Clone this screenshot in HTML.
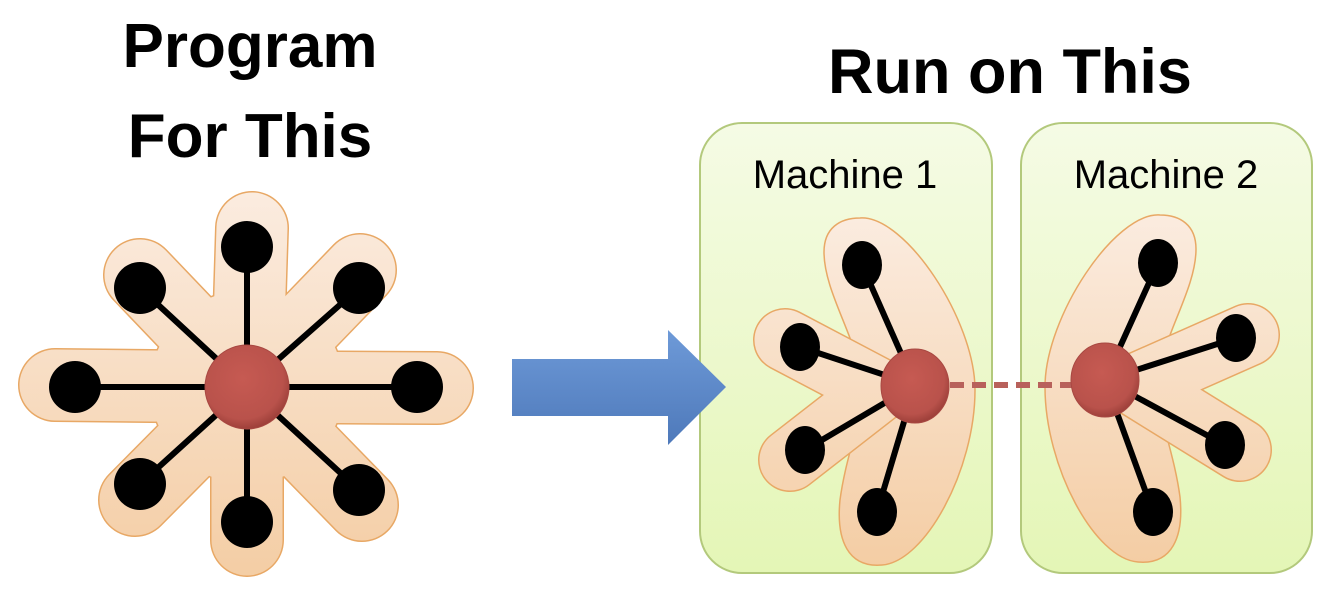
<!DOCTYPE html>
<html><head><meta charset="utf-8"><style>
html,body{margin:0;padding:0;background:#fff;width:1343px;height:602px;overflow:hidden}
svg{display:block}
text{font-family:"Liberation Sans","DejaVu Sans",sans-serif}
</style></head><body>
<svg width="1343" height="602" viewBox="0 0 1343 602" xmlns="http://www.w3.org/2000/svg">
<defs>
<linearGradient id="blob" gradientUnits="userSpaceOnUse" x1="0" y1="190" x2="0" y2="580"><stop offset="0" stop-color="#fbece0"/><stop offset="1" stop-color="#f4cda4"/></linearGradient>
<linearGradient id="blob2" gradientUnits="userSpaceOnUse" x1="0" y1="215" x2="0" y2="565"><stop offset="0" stop-color="#fbece0"/><stop offset="1" stop-color="#f4cda4"/></linearGradient>
<linearGradient id="box" x1="0" y1="0" x2="0" y2="1"><stop offset="0" stop-color="#f5fbe5"/><stop offset="1" stop-color="#e4f6b6"/></linearGradient>
<linearGradient id="arr" x1="0" y1="0" x2="0" y2="1"><stop offset="0" stop-color="#6e9ad8"/><stop offset="1" stop-color="#4e79ba"/></linearGradient>
<radialGradient id="red" cx="0.45" cy="0.4" r="0.6"><stop offset="0" stop-color="#c65a52"/><stop offset="0.8" stop-color="#b9524b"/><stop offset="1" stop-color="#9e403a"/></radialGradient>
<path id="cres" d="M860,218 C905,215 975,320 975,390 C975,470 925,562 882,565 C848,568 836,540 840,500 C846,455 862,420 862,390 C862,345 824,295 824,252 C824,228 840,218 860,218 Z"/>
</defs>

<text x="250" y="67" font-size="62" font-weight="bold" text-anchor="middle">Program</text>
<text x="250" y="157" font-size="62" font-weight="bold" text-anchor="middle">For This</text>
<text x="1010" y="93" font-size="63" font-weight="bold" text-anchor="middle">Run on This</text>

<g stroke-linecap="round" fill="none">
<g stroke="#e8a865" stroke-width="74">
<circle cx="247" cy="387" r="98" fill="#e8a865" stroke="none"/>
<line x1="247" y1="387" x2="252" y2="228"/><line x1="247" y1="387" x2="140" y2="275"/>
<line x1="247" y1="387" x2="360" y2="270"/><line x1="247" y1="387" x2="55" y2="385"/>
<line x1="247" y1="387" x2="437" y2="388"/><line x1="247" y1="387" x2="135" y2="500"/>
<line x1="247" y1="387" x2="247" y2="540"/><line x1="247" y1="387" x2="362" y2="505"/>
</g>
<g stroke="url(#blob)" stroke-width="71">
<circle cx="247" cy="387" r="96.5" fill="url(#blob)" stroke="none"/>
<line x1="247" y1="387" x2="252" y2="228"/><line x1="247" y1="387" x2="140" y2="275"/>
<line x1="247" y1="387" x2="360" y2="270"/><line x1="247" y1="387" x2="55" y2="385"/>
<line x1="247" y1="387" x2="437" y2="388"/><line x1="247" y1="387" x2="135" y2="500"/>
<line x1="247" y1="387" x2="247" y2="540"/><line x1="247" y1="387" x2="362" y2="505"/>
</g>
<g stroke="#000" stroke-width="6">
<line x1="247" y1="387" x2="247" y2="247"/><line x1="247" y1="387" x2="140" y2="288"/>
<line x1="247" y1="387" x2="359" y2="288"/><line x1="247" y1="387" x2="75" y2="387"/>
<line x1="247" y1="387" x2="417" y2="387"/><line x1="247" y1="387" x2="140" y2="484"/>
<line x1="247" y1="387" x2="247" y2="522"/><line x1="247" y1="387" x2="359" y2="490"/>
</g>
</g>
<g fill="#000">
<circle cx="247" cy="247" r="26"/><circle cx="140" cy="288" r="26"/><circle cx="359" cy="288" r="26"/>
<circle cx="75" cy="387" r="26"/><circle cx="417" cy="387" r="26"/><circle cx="140" cy="484" r="26"/>
<circle cx="247" cy="522" r="26"/><circle cx="359" cy="490" r="26"/>
</g>
<circle cx="247" cy="387" r="42" fill="url(#red)" stroke="#a84842" stroke-width="1"/>

<rect x="700" y="123" width="292" height="450" rx="42" fill="url(#box)" stroke="#b3c97c" stroke-width="2"/>
<rect x="1021" y="123" width="291" height="450" rx="42" fill="url(#box)" stroke="#b3c97c" stroke-width="2"/>
<text x="845" y="188" font-size="40" text-anchor="middle">Machine 1</text>
<text x="1166" y="188" font-size="40" text-anchor="middle">Machine 2</text>

<g stroke-linecap="round" fill="none">
<use href="#cres" fill="url(#blob2)" stroke="#e8a865" stroke-width="1.5"/>
<g stroke="#e8a865" stroke-width="64">
<line x1="880" y1="390" x2="785" y2="340"/><line x1="880" y1="390" x2="790" y2="460"/>
</g>
<g stroke="url(#blob2)" stroke-width="61">
<line x1="880" y1="390" x2="785" y2="340"/><line x1="880" y1="390" x2="790" y2="460"/>
</g>
</g>
<g stroke-linecap="round" fill="none">
<g transform="matrix(-1,0,0,1,2020,-3)">
<use href="#cres" fill="url(#blob2)" stroke="#e8a865" stroke-width="1.5"/>
</g>
<g stroke="#e8a865" stroke-width="64">
<line x1="1135" y1="385" x2="1248" y2="335"/><line x1="1135" y1="385" x2="1240" y2="450"/>
</g>
<g stroke="url(#blob2)" stroke-width="61">
<line x1="1135" y1="385" x2="1248" y2="335"/><line x1="1135" y1="385" x2="1240" y2="450"/>
</g>
</g>

<g stroke="#000" stroke-width="6">
<line x1="915" y1="385" x2="862" y2="265"/><line x1="915" y1="385" x2="800" y2="347"/>
<line x1="915" y1="385" x2="805" y2="450"/><line x1="915" y1="385" x2="877" y2="512"/>
<line x1="1105" y1="380" x2="1158" y2="263"/><line x1="1105" y1="380" x2="1236" y2="338"/>
<line x1="1105" y1="380" x2="1225" y2="445"/><line x1="1105" y1="380" x2="1153" y2="512"/>
</g>
<g fill="#000">
<ellipse cx="862" cy="265" rx="20" ry="24"/><ellipse cx="800" cy="347" rx="20" ry="24"/>
<ellipse cx="805" cy="450" rx="20" ry="24"/><ellipse cx="877" cy="512" rx="20" ry="24"/>
<ellipse cx="1158" cy="263" rx="20" ry="24"/><ellipse cx="1236" cy="338" rx="20" ry="24"/>
<ellipse cx="1225" cy="445" rx="20" ry="24"/><ellipse cx="1153" cy="512" rx="20" ry="24"/>
</g>
<line x1="950" y1="385" x2="1072" y2="385" stroke="#b8615b" stroke-width="6" stroke-dasharray="14 8"/>
<ellipse cx="915" cy="386" rx="34" ry="37" fill="url(#red)" stroke="#a84842"/>
<ellipse cx="1105" cy="380" rx="34" ry="37" fill="url(#red)" stroke="#a84842"/>

<polygon points="512,359 668,359 668,330 726,387 668,445 668,416 512,416" fill="url(#arr)"/>
</svg>
</body></html>
